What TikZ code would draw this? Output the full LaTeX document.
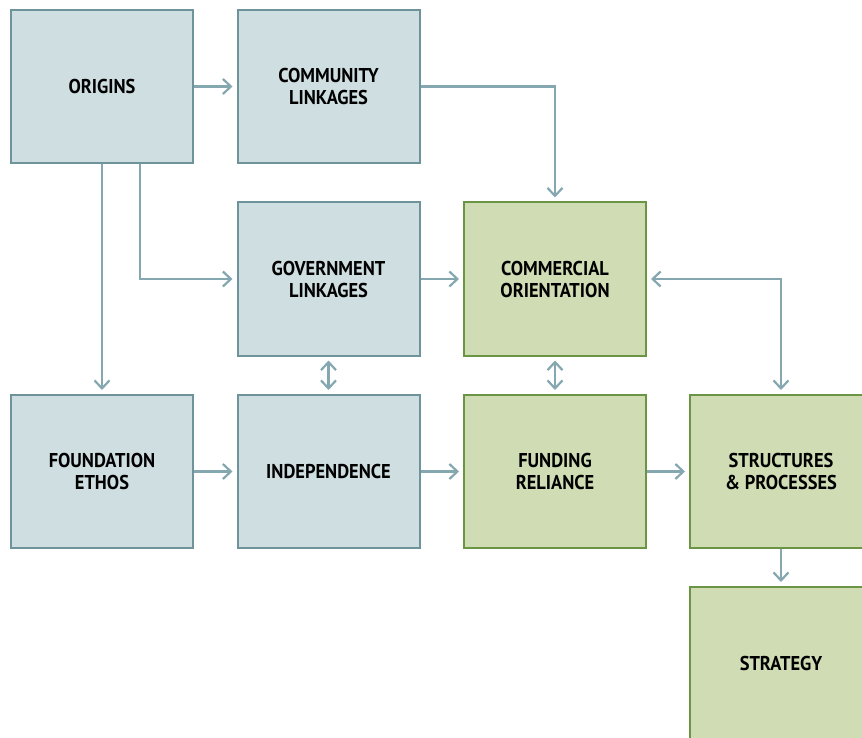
\documentclass[tikz,border=0pt]{standalone}
\usepackage{fontspec}
\setsansfont{PT Sans}[FakeStretch=0.92]
\usetikzlibrary{arrows.meta,positioning,calc}
\definecolor{bluefill}{HTML}{CFDEE1}
\definecolor{blueline}{HTML}{6E939B}
\definecolor{greenfill}{HTML}{D0DDB4}
\definecolor{greenline}{HTML}{6B9444}
\definecolor{arrowcol}{HTML}{84A7B0}
\tikzset{
  box/.style={rectangle, minimum width=182pt, minimum height=153pt, line width=2pt,
    align=center, font=\sffamily\bfseries\fontsize{20}{22}\selectfont, inner sep=0pt},
  bluebox/.style={box, draw=blueline, fill=bluefill},
  greenbox/.style={box, draw=greenline, fill=greenfill},
  conn/.style={draw=arrowcol, line width=2.2pt,
    -{Straight Barb[length=8pt,width=15pt,line width=2.2pt]}, shorten >=4pt},
  dconn/.style={draw=arrowcol, line width=2.2pt,
    {Straight Barb[length=8pt,width=15pt,line width=2.2pt]}-{Straight Barb[length=8pt,width=15pt,line width=2.2pt]},
    shorten >=4pt, shorten <=4pt}
}
\begin{document}
\begin{tikzpicture}[x=1pt,y=-1pt]
\useasboundingbox (0,0) rectangle (862,738);
\clip (0,0) rectangle (862,738);
\node[bluebox] (origins) at (102,86.5) {ORIGINS};
\node[bluebox] (community) at (328.5,86.5) {COMMUNITY\\LINKAGES};
\node[bluebox] (government) at (328.5,279) {GOVERNMENT\\LINKAGES};
\node[greenbox] (commercial) at (555,279) {COMMERCIAL\\ORIENTATION};
\node[bluebox] (foundation) at (102,471.5) {FOUNDATION\\ETHOS};
\node[bluebox] (independence) at (328.5,471.5) {INDEPENDENCE};
\node[greenbox] (funding) at (555,471.5) {FUNDING\\RELIANCE};
\node[greenbox] (structures) at (781,471.5) {STRUCTURES\\\&~PROCESSES};
\node[greenbox] (strategy) at (781,663.5) {STRATEGY};
\coordinate (obranch) at ($(origins.south)+(38,0)$);
\draw[conn] (origins) -- (community);
\draw[conn] (community.east) -| (commercial.north);
\draw[conn] (origins) -- (foundation);
\draw[conn] (obranch) |- (government.west);
\draw[conn] (government) -- (commercial);
\draw[dconn] (commercial.east) -| (structures.north);
\draw[dconn] (government) -- (independence);
\draw[dconn] (commercial) -- (funding);
\draw[conn] (foundation) -- (independence);
\draw[conn] (independence) -- (funding);
\draw[conn] (funding) -- (structures);
\draw[conn] (structures) -- (strategy);
\end{tikzpicture}
\end{document}
